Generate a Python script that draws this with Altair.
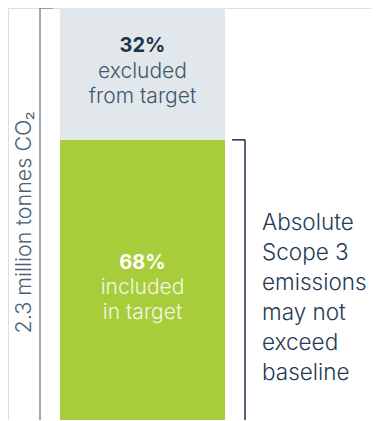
import altair as alt
import pandas as pd

segments = ["included", "excluded"]
shares = [68, 32]
pct_labels = ["68%", "32%"]
desc_labels = ["included\nin target", "excluded\nfrom target"]
colors = ["#a8cd3a", "#e2e7eb"]
axis_label = "2.3 million tonnes CO₂"
note = "Absolute\nScope 3\nemissions\nmay not\nexceed\nbaseline"

df = pd.DataFrame({
    "cat": ["Scope 3"] * 2,
    "segment": segments,
    "share": shares,
    "order": [0, 1],
    "pct": pct_labels,
    "desc": desc_labels,
})
df["y0"] = df["share"].cumsum() - df["share"]
df["y1"] = df["share"].cumsum()
df["mid"] = (df["y0"] + df["y1"]) / 2

FONT = "Inter"
W, H = 363, 412

yscale = alt.Scale(domain=[0, 100], nice=False, zero=True)
xscale = alt.Scale(domain=["Scope 3"], range=[52, 217], paddingInner=0, paddingOuter=0)

base = alt.Chart(df)

bars = base.mark_bar(cornerRadius=0).encode(
    x=alt.X("cat:N", scale=xscale, axis=None),
    y=alt.Y("y0:Q", scale=yscale, axis=None),
    y2="y1:Q",
    color=alt.Color("segment:N", scale=alt.Scale(domain=segments, range=colors), legend=None),
)

def seg_text(seg, field, dy, color, weight, size, opacity=1.0):
    return base.transform_filter(alt.datum.segment == seg).mark_text(
        font=FONT, fontSize=size, fontWeight=weight, color=color, dy=dy,
        lineBreak="\n", lineHeight=25, align="center", baseline="middle", opacity=opacity,
    ).encode(
        x=alt.X("cat:N", scale=xscale, axis=None),
        y=alt.Y("mid:Q", scale=yscale, axis=None),
        text=f"{field}:N",
    )

t1 = seg_text("excluded", "pct", -28, "#1b3550", 700, 20)
t2 = seg_text("excluded", "desc", -2, "#3f566b", 300, 21)
t3 = seg_text("included", "pct", -17, "#ffffff", 700, 20)
t4 = seg_text("included", "desc", 8, "#f2f7e4", 300, 21)

# left bracket spanning the full bar
left_df = pd.DataFrame({"top": [100], "bottom": [0]})
left_rule = alt.Chart(left_df).mark_rule(color="#7d8e9c", strokeWidth=1.5).encode(
    x=alt.value(32), y=alt.Y("top:Q", scale=yscale, axis=None), y2="bottom:Q"
)
left_tick = alt.Chart(left_df).mark_rule(color="#7d8e9c", strokeWidth=1.5).encode(
    x=alt.value(32), x2=alt.value(45), y=alt.Y("top:Q", scale=yscale, axis=None)
)
left_label = alt.Chart(pd.DataFrame({"t": [axis_label], "y": [48]})).mark_text(
    font=FONT, fontSize=21.5, fontWeight=300, color="#4a6275", angle=270,
    align="center", baseline="middle",
).encode(x=alt.value(17), y=alt.Y("y:Q", scale=yscale, axis=None), text="t:N")

# right bracket spanning the included part
right_df = pd.DataFrame({"top": [shares[0]], "bottom": [0]})
right_rule = alt.Chart(right_df).mark_rule(color="#1b2f45", strokeWidth=1.5).encode(
    x=alt.value(237), y=alt.Y("top:Q", scale=yscale, axis=None), y2="bottom:Q"
)
right_tick = alt.Chart(right_df).mark_rule(color="#1b2f45", strokeWidth=1.5).encode(
    x=alt.value(224), x2=alt.value(237), y=alt.Y("top:Q", scale=yscale, axis=None)
)
right_label = alt.Chart(pd.DataFrame({"t": [note], "y": [shares[0] / 2]})).mark_text(
    font=FONT, fontSize=22.5, fontWeight=300, color="#243b53", lineBreak="\n",
    lineHeight=30, align="left", baseline="middle", dy=-57,
).encode(x=alt.value(254), y=alt.Y("y:Q", scale=yscale, axis=None), text="t:N")

chart = alt.layer(
    bars, t1, t2, t3, t4, left_rule, left_tick, left_label, right_rule, right_tick, right_label
).properties(
    width=W, height=H, autosize=alt.AutoSizeParams(type="none"), padding=0,
).configure_view(stroke="transparent", strokeWidth=0).configure(background="#ffffff")

chart.save("out.html", embed_options={"renderer": "svg", "actions": False})
